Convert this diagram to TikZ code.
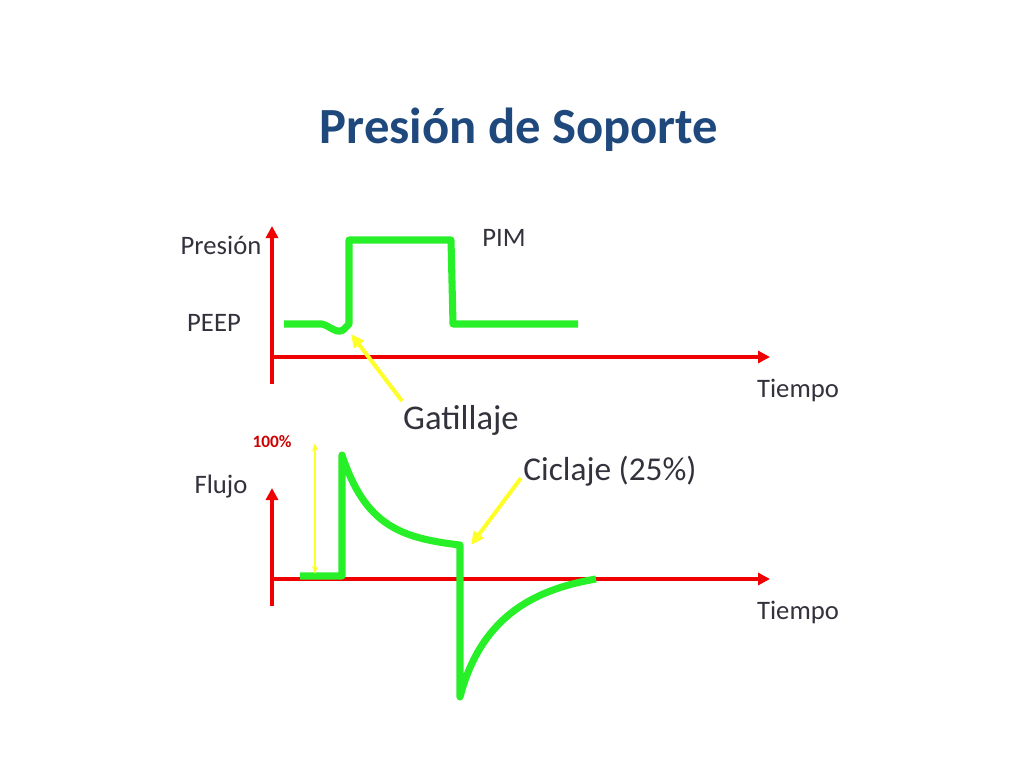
\documentclass[tikz,border=0pt]{standalone}
\usepackage{fontspec}
\setmainfont{Carlito}
\usetikzlibrary{arrows.meta}
\definecolor{ttl}{RGB}{31,73,125}
\definecolor{ax}{RGB}{240,0,0}
\definecolor{gr}{RGB}{40,240,40}
\definecolor{yl}{RGB}{255,255,40}
\definecolor{lbl}{RGB}{50,50,60}
\begin{document}
\begin{tikzpicture}[x=0.75pt,y=-0.75pt,
  axis/.style={ax,line width=3pt,-{Triangle[length=9pt,width=9pt]}},
  wave/.style={gr,line width=5.3pt,line join=round},
  ptr/.style={yl,line width=3pt,-{Triangle[length=10pt,width=9pt]}},
  lab/.style={lbl,font=\fontsize{20}{22}\selectfont}]
\useasboundingbox (0,0) rectangle (1024,768);
\node[ttl,font=\bfseries\fontsize{38}{44}\selectfont] (title) at (519,130) {Presión de Soporte};
% axes
\coordinate (o1) at (272,357); \coordinate (b1) at (272,384);
\draw[axis] (b1) -- (272,226) coordinate (t1);
\draw[axis] (o1) -- (770,357) coordinate (r1);
\coordinate (o2) at (272,579); \coordinate (b2) at (272,606);
\draw[axis] (b2) -- (272,488) coordinate (t2);
\draw[axis] (o2) -- (770,579) coordinate (r2);
% pressure
\draw[wave] (284,324) -- (322,324) .. controls (330,326) and (336,334) .. (343,330) -- (349,324) -- (349,240) -- (451,240) -- (453,324) -- (578,324);
% flow
\draw[wave] (300,576) -- (342,576) -- (342,455) .. controls (365,525) and (400,538) .. (460,545) -- (460,697) .. controls (480,620) and (530,590) .. (596,579);
% pointers
\coordinate (g1) at (402,401); \coordinate (g2) at (351,334);
\draw[ptr] (g1) -- (g2);
\coordinate (c1) at (521,478); \coordinate (c2) at (471,545);
\draw[ptr] (c1) -- (c2);
\coordinate (h1) at (315,443); \coordinate (h2) at (315,574);
\draw[yl,line width=1.2pt,{Stealth[length=6pt]}-{Stealth[length=6pt]}] (h1) -- (h2);
% labels
\node[lab] (pres) at (221,245) {Presión};
\node[lab] (pim) at (504,238) {PIM};
\node[lab] (peep) at (214,323) {PEEP};
\node[lab] (t1l) at (798,390) {Tiempo};
\node[lab] (t2l) at (798,612) {Tiempo};
\node[lab] (flujo) at (221,487) {Flujo};
\node[lbl,font=\fontsize{26}{30}\selectfont] (gat) at (461,420) {Gatillaje};
\node[lbl,font=\fontsize{25}{30}\selectfont] (cic) at (610,471) {Ciclaje (25\%)};
\node[ax!85!black,font=\bfseries\fontsize{13}{14}\selectfont] (pct) at (272,442) {100\%};
\end{tikzpicture}
\end{document}
